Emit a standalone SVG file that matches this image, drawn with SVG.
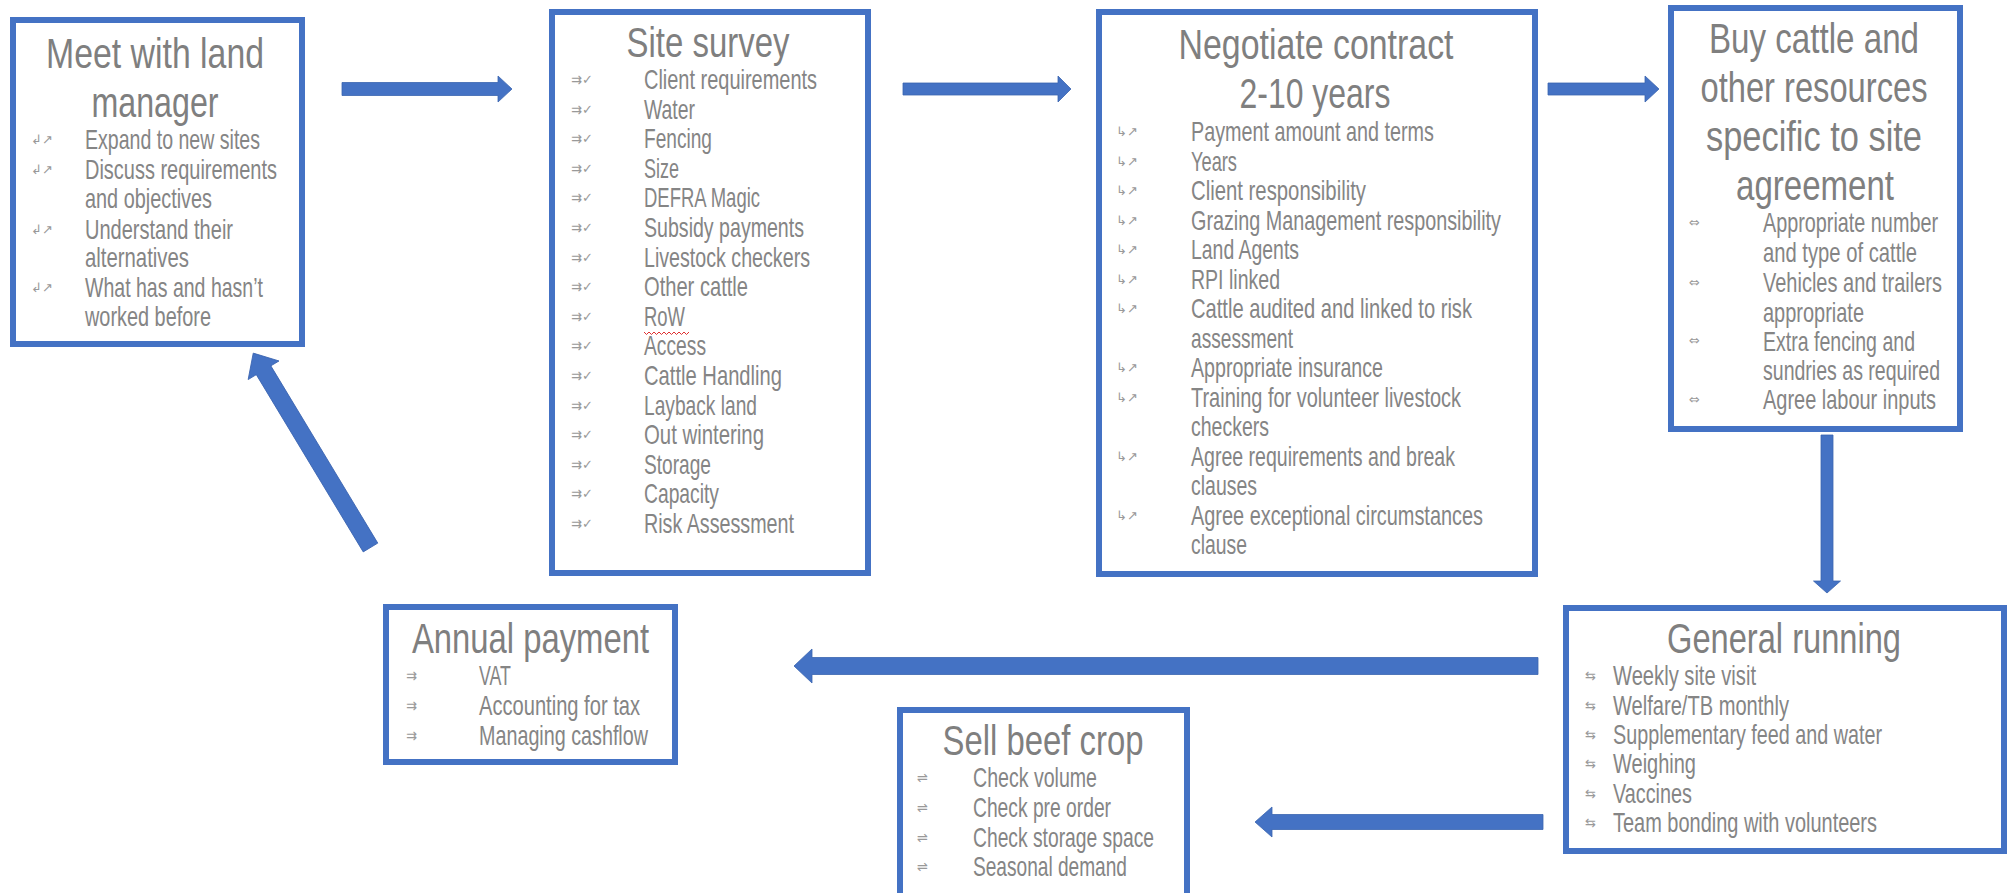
<svg xmlns="http://www.w3.org/2000/svg" width="2015" height="893" viewBox="0 0 2015 893">
<style>
.box{fill:#ffffff;stroke:#4472C4;stroke-width:6}
.arrow{fill:#4472C4;stroke:#3a64b0;stroke-width:0.8}
.title{font-family:"Liberation Sans Narrow","Liberation Sans",Arial,sans-serif;font-size:42px;fill:#7f7f7f;text-anchor:middle}
.item{font-family:"Liberation Sans Narrow","Liberation Sans",Arial,sans-serif;font-size:28px;fill:#858585}
.bul{font-family:"DejaVu Sans",sans-serif;font-size:13px;fill:#999999}
</style>
<rect width="2015" height="893" fill="#ffffff"/>
<g id="connectors">
<polygon class="arrow" points="342,82.5 498,82.5 498,76 512,89 498,102 498,95.5 342,95.5"/>
<polygon class="arrow" points="903,83 1058,83 1058,76 1071,89 1058,102 1058,95 903,95"/>
<polygon class="arrow" points="1548,83 1645,83 1645,76 1659,89 1645,102 1645,95 1548,95"/>
<polygon class="arrow" points="1821,435 1833,435 1833,581 1840.5,581 1827,593 1813.5,581 1821,581"/>
<polygon class="arrow" points="1538,657.5 812,657.5 812,649 794,666 812,683 812,674.5 1538,674.5"/>
<polygon class="arrow" points="1543,814.5 1272,814.5 1272,807 1255,822 1272,837 1272,829.5 1543,829.5"/>
<polygon class="arrow" transform="translate(370.5,547.5) rotate(-121.1)" points="0,-8.5 207,-8.5 207,-18 227,0 207,18 207,8.5 0,8.5"/>
</g>
<g id="meet">
<rect class="box" x="13" y="20" width="289" height="324"/>
<text class="title" x="155" y="68" textLength="218" lengthAdjust="spacingAndGlyphs">Meet with land</text>
<text class="title" x="155" y="117" textLength="127" lengthAdjust="spacingAndGlyphs">manager</text>
<text class="bul" x="31" y="144">↲↗</text>
<text class="bul" x="31" y="174">↲↗</text>
<text class="bul" x="31" y="234">↲↗</text>
<text class="bul" x="31" y="292">↲↗</text>
<text class="item" x="85" y="149" textLength="175" lengthAdjust="spacingAndGlyphs">Expand to new sites</text>
<text class="item" x="85" y="179" textLength="192" lengthAdjust="spacingAndGlyphs">Discuss requirements</text>
<text class="item" x="85" y="208" textLength="127" lengthAdjust="spacingAndGlyphs">and objectives</text>
<text class="item" x="85" y="239" textLength="148" lengthAdjust="spacingAndGlyphs">Understand their</text>
<text class="item" x="85" y="267" textLength="104" lengthAdjust="spacingAndGlyphs">alternatives</text>
<text class="item" x="85" y="297" textLength="178" lengthAdjust="spacingAndGlyphs">What has and hasn’t</text>
<text class="item" x="85" y="326" textLength="126" lengthAdjust="spacingAndGlyphs">worked before</text>
</g>
<g id="survey">
<rect class="box" x="552" y="12" width="316" height="561"/>
<text class="title" x="708" y="57" textLength="163" lengthAdjust="spacingAndGlyphs">Site survey</text>
<g class="bul">
<text x="571" y="84">⇉✓</text><text x="571" y="114">⇉✓</text><text x="571" y="143">⇉✓</text><text x="571" y="173">⇉✓</text>
<text x="571" y="202">⇉✓</text><text x="571" y="232">⇉✓</text><text x="571" y="262">⇉✓</text><text x="571" y="291">⇉✓</text>
<text x="571" y="321">⇉✓</text><text x="571" y="350">⇉✓</text><text x="571" y="380">⇉✓</text><text x="571" y="410">⇉✓</text>
<text x="571" y="439">⇉✓</text><text x="571" y="469">⇉✓</text><text x="571" y="498">⇉✓</text><text x="571" y="528">⇉✓</text>
</g>
<text class="item" x="644" y="89" textLength="173" lengthAdjust="spacingAndGlyphs">Client requirements</text>
<text class="item" x="644" y="119" textLength="51" lengthAdjust="spacingAndGlyphs">Water</text>
<text class="item" x="644" y="148" textLength="68" lengthAdjust="spacingAndGlyphs">Fencing</text>
<text class="item" x="644" y="178" textLength="35" lengthAdjust="spacingAndGlyphs">Size</text>
<text class="item" x="644" y="207" textLength="116" lengthAdjust="spacingAndGlyphs">DEFRA Magic</text>
<text class="item" x="644" y="237" textLength="160" lengthAdjust="spacingAndGlyphs">Subsidy payments</text>
<text class="item" x="644" y="267" textLength="166" lengthAdjust="spacingAndGlyphs">Livestock checkers</text>
<text class="item" x="644" y="296" textLength="104" lengthAdjust="spacingAndGlyphs">Other cattle</text>
<text class="item" x="644" y="326" textLength="41" lengthAdjust="spacingAndGlyphs">RoW</text>
<text class="item" x="644" y="355" textLength="62" lengthAdjust="spacingAndGlyphs">Access</text>
<text class="item" x="644" y="385" textLength="138" lengthAdjust="spacingAndGlyphs">Cattle Handling</text>
<text class="item" x="644" y="415" textLength="113" lengthAdjust="spacingAndGlyphs">Layback land</text>
<text class="item" x="644" y="444" textLength="120" lengthAdjust="spacingAndGlyphs">Out wintering</text>
<text class="item" x="644" y="474" textLength="67" lengthAdjust="spacingAndGlyphs">Storage</text>
<text class="item" x="644" y="503" textLength="75" lengthAdjust="spacingAndGlyphs">Capacity</text>
<text class="item" x="644" y="533" textLength="150" lengthAdjust="spacingAndGlyphs">Risk Assessment</text>
<path d="M644,332 l2.5,2.5 l2.5,-2.5 l2.5,2.5 l2.5,-2.5 l2.5,2.5 l2.5,-2.5 l2.5,2.5 l2.5,-2.5 l2.5,2.5 l2.5,-2.5 l2.5,2.5 l2.5,-2.5 l2.5,2.5 l2.5,-2.5 l2.5,2.5 l2.5,-2.5 l2.5,2.5 l2.5,-2.5" fill="none" stroke="#e03030" stroke-width="1"/>
</g>
<g id="negotiate">
<rect class="box" x="1099" y="12" width="436" height="562"/>
<text class="title" x="1316" y="59" textLength="275" lengthAdjust="spacingAndGlyphs">Negotiate contract</text>
<text class="title" x="1315" y="108" textLength="151" lengthAdjust="spacingAndGlyphs">2-10 years</text>
<g class="bul">
<text x="1116" y="136">↳↗</text><text x="1116" y="165.5">↳↗</text><text x="1116" y="195">↳↗</text><text x="1116" y="224.5">↳↗</text>
<text x="1116" y="254">↳↗</text><text x="1116" y="283.5">↳↗</text><text x="1116" y="313">↳↗</text><text x="1116" y="372">↳↗</text>
<text x="1116" y="401.5">↳↗</text><text x="1116" y="460.5">↳↗</text><text x="1116" y="519.5">↳↗</text>
</g>
<text class="item" x="1191" y="141" textLength="243" lengthAdjust="spacingAndGlyphs">Payment amount and terms</text>
<text class="item" x="1191" y="170.5" textLength="46" lengthAdjust="spacingAndGlyphs">Years</text>
<text class="item" x="1191" y="200" textLength="175" lengthAdjust="spacingAndGlyphs">Client responsibility</text>
<text class="item" x="1191" y="229.5" textLength="310" lengthAdjust="spacingAndGlyphs">Grazing Management responsibility</text>
<text class="item" x="1191" y="259" textLength="108" lengthAdjust="spacingAndGlyphs">Land Agents</text>
<text class="item" x="1191" y="288.5" textLength="89" lengthAdjust="spacingAndGlyphs">RPI linked</text>
<text class="item" x="1191" y="318" textLength="281" lengthAdjust="spacingAndGlyphs">Cattle audited and linked to risk</text>
<text class="item" x="1191" y="347.5" textLength="102" lengthAdjust="spacingAndGlyphs">assessment</text>
<text class="item" x="1191" y="377" textLength="192" lengthAdjust="spacingAndGlyphs">Appropriate insurance</text>
<text class="item" x="1191" y="406.5" textLength="270" lengthAdjust="spacingAndGlyphs">Training for volunteer livestock</text>
<text class="item" x="1191" y="436" textLength="78" lengthAdjust="spacingAndGlyphs">checkers</text>
<text class="item" x="1191" y="465.5" textLength="264" lengthAdjust="spacingAndGlyphs">Agree requirements and break</text>
<text class="item" x="1191" y="495" textLength="66" lengthAdjust="spacingAndGlyphs">clauses</text>
<text class="item" x="1191" y="524.5" textLength="292" lengthAdjust="spacingAndGlyphs">Agree exceptional circumstances</text>
<text class="item" x="1191" y="554" textLength="56" lengthAdjust="spacingAndGlyphs">clause</text>
</g>
<g id="buy">
<rect class="box" x="1671" y="8" width="289" height="421"/>
<text class="title" x="1814" y="53" textLength="210" lengthAdjust="spacingAndGlyphs">Buy cattle and</text>
<text class="title" x="1814" y="102" textLength="227" lengthAdjust="spacingAndGlyphs">other resources</text>
<text class="title" x="1814" y="151" textLength="216" lengthAdjust="spacingAndGlyphs">specific to site</text>
<text class="title" x="1815" y="200" textLength="158" lengthAdjust="spacingAndGlyphs">agreement</text>
<g class="bul">
<text x="1689" y="227">⇔</text><text x="1689" y="287">⇔</text><text x="1689" y="345">⇔</text><text x="1689" y="404">⇔</text>
</g>
<text class="item" x="1763" y="232" textLength="175" lengthAdjust="spacingAndGlyphs">Appropriate number</text>
<text class="item" x="1763" y="262" textLength="154" lengthAdjust="spacingAndGlyphs">and type of cattle</text>
<text class="item" x="1763" y="292" textLength="179" lengthAdjust="spacingAndGlyphs">Vehicles and trailers</text>
<text class="item" x="1763" y="322" textLength="101" lengthAdjust="spacingAndGlyphs">appropriate</text>
<text class="item" x="1763" y="351" textLength="152" lengthAdjust="spacingAndGlyphs">Extra fencing and</text>
<text class="item" x="1763" y="380" textLength="177" lengthAdjust="spacingAndGlyphs">sundries as required</text>
<text class="item" x="1763" y="409" textLength="173" lengthAdjust="spacingAndGlyphs">Agree labour inputs</text>
</g>
<g id="general">
<rect class="box" x="1566" y="608" width="438" height="243"/>
<text class="title" x="1784" y="653" textLength="234" lengthAdjust="spacingAndGlyphs">General running</text>
<g class="bul">
<text x="1585" y="680">⇆</text><text x="1585" y="710">⇆</text><text x="1585" y="739">⇆</text>
<text x="1585" y="768">⇆</text><text x="1585" y="798">⇆</text><text x="1585" y="827">⇆</text>
</g>
<text class="item" x="1613" y="685" textLength="143" lengthAdjust="spacingAndGlyphs">Weekly site visit</text>
<text class="item" x="1613" y="715" textLength="176" lengthAdjust="spacingAndGlyphs">Welfare/TB monthly</text>
<text class="item" x="1613" y="744" textLength="269" lengthAdjust="spacingAndGlyphs">Supplementary feed and water</text>
<text class="item" x="1613" y="773" textLength="83" lengthAdjust="spacingAndGlyphs">Weighing</text>
<text class="item" x="1613" y="803" textLength="79" lengthAdjust="spacingAndGlyphs">Vaccines</text>
<text class="item" x="1613" y="832" textLength="264" lengthAdjust="spacingAndGlyphs">Team bonding with volunteers</text>
</g>
<g id="sell">
<rect class="box" x="900" y="710" width="287" height="200"/>
<text class="title" x="1043" y="755" textLength="201" lengthAdjust="spacingAndGlyphs">Sell beef crop</text>
<g class="bul">
<text x="917" y="782">⇌</text><text x="917" y="812">⇌</text><text x="917" y="842">⇌</text><text x="917" y="871">⇌</text>
</g>
<text class="item" x="973" y="787" textLength="124" lengthAdjust="spacingAndGlyphs">Check volume</text>
<text class="item" x="973" y="817" textLength="138" lengthAdjust="spacingAndGlyphs">Check pre order</text>
<text class="item" x="973" y="847" textLength="181" lengthAdjust="spacingAndGlyphs">Check storage space</text>
<text class="item" x="973" y="876" textLength="154" lengthAdjust="spacingAndGlyphs">Seasonal demand</text>
</g>
<g id="annual">
<rect class="box" x="386" y="607" width="289" height="155"/>
<text class="title" x="530.5" y="653" textLength="237" lengthAdjust="spacingAndGlyphs">Annual payment</text>
<g class="bul">
<text x="406" y="680">⇉</text><text x="406" y="710">⇉</text><text x="406" y="740">⇉</text>
</g>
<text class="item" x="479" y="685" textLength="32" lengthAdjust="spacingAndGlyphs">VAT</text>
<text class="item" x="479" y="715" textLength="161" lengthAdjust="spacingAndGlyphs">Accounting for tax</text>
<text class="item" x="479" y="745" textLength="169" lengthAdjust="spacingAndGlyphs">Managing cashflow</text>
</g>
</svg>
